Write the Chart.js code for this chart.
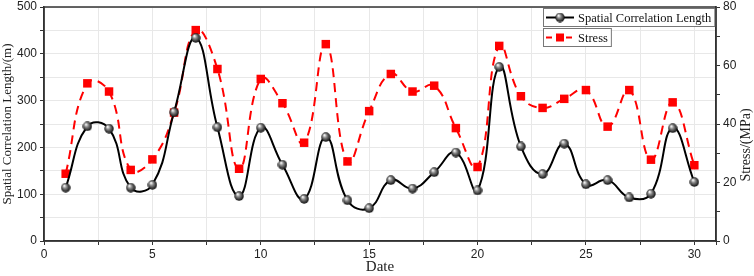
<!DOCTYPE html>
<html>
<head>
<meta charset="utf-8">
<script src="https://cdn.jsdelivr.net/npm/chart.js@4.4.0/dist/chart.umd.min.js"></script>
<style>
  html, body { margin: 0; padding: 0; background: #fff; }
  #wrap { width: 754px; height: 276px; }
</style>
</head>
<body>
<div id="wrap"><canvas id="chart-1"></canvas></div>
<script>
const days = [1,2,3,4,5,6,7,8,9,10,11,12,13,14,15,16,17,18,19,20,21,22,23,24,25,26,27,28,29,30];
const scl = [114,245,240,114,120,275,434,243,96,242,163,90,222,87,70,130,112,147,189,108,372,202,143,208,121,130,93,101,241,126];
const stress = [23.0,53.9,51.1,24.3,27.9,43.9,72.1,58.8,24.7,55.4,47.1,33.6,67.3,27.2,44.4,57.1,51.1,53.1,38.6,25.3,66.7,49.5,45.5,48.6,51.6,39.1,51.6,27.8,47.4,25.9];
const xTicks = [0,5,10,15,20,25,30];

const serif = "'Liberation Serif', 'DejaVu Serif', serif";
const sans = "'Liberation Sans', Arial, sans-serif";

// shaded ball marker
function makeBall(d) {
  const c = document.createElement("canvas");
  c.width = d; c.height = d;
  const g = c.getContext("2d");
  const r = d / 2;
  const grad = g.createRadialGradient(r * 0.7, r * 0.6, 0.5, r, r, r);
  grad.addColorStop(0, "#f4f4f4");
  grad.addColorStop(0.35, "#888");
  grad.addColorStop(1, "#000");
  g.fillStyle = grad;
  g.beginPath();
  g.arc(r, r, r - 0.3, 0, Math.PI * 2);
  g.fill();
  return c;
}
const ball = makeBall(10);

const frame = {
  id: "frame",
  afterDraw(chart) {
    const { ctx, chartArea: a } = chart;
    ctx.save();
    ctx.strokeStyle = "#333";
    ctx.lineWidth = 1.5;
    ctx.strokeRect(a.left, a.top, a.right - a.left, a.bottom - a.top);

    // right axis title
    ctx.save();
    ctx.translate(chart.width - 8, 145);
    ctx.rotate(-Math.PI / 2);
    ctx.font = "14px " + serif;
    ctx.fillStyle = "#222";
    ctx.textAlign = "center";
    ctx.textBaseline = "middle";
    ctx.fillText("Stress/(MPa)", 0, 0);
    ctx.restore();

    // legend boxes
    ctx.font = "12.5px " + serif;
    ctx.textBaseline = "middle";
    const items = [
      { text: "Spatial Correlation Length", color: "#000", dash: [], marker: "ball" },
      { text: "Stress", color: "#ff0000", dash: [6, 4], marker: "rect" },
    ];
    const x0 = a.right - 173;
    let y = a.top + 1;
    items.forEach(it => {
      const w = 35 + ctx.measureText(it.text).width + 3;
      const h = 18;
      ctx.fillStyle = "#fff";
      ctx.fillRect(x0, y, w, h);
      ctx.strokeStyle = "#777";
      ctx.lineWidth = 1;
      ctx.setLineDash([]);
      ctx.strokeRect(x0 + 0.5, y + 0.5, w, h);
      const cy = y + h / 2 + 0.5;
      ctx.strokeStyle = it.color;
      ctx.lineWidth = 2;
      ctx.setLineDash(it.dash);
      ctx.beginPath();
      ctx.moveTo(x0 + 3, cy);
      ctx.lineTo(x0 + 31, cy);
      ctx.stroke();
      ctx.setLineDash([]);
      if (it.marker === "ball") {
        ctx.drawImage(ball, x0 + 17 - 5, cy - 5);
      } else {
        ctx.fillStyle = it.color;
        ctx.fillRect(x0 + 17 - 4, cy - 4, 8, 8);
      }
      ctx.fillStyle = "#111";
      ctx.fillText(it.text, x0 + 35, cy + 1);
      y += h + 2;
    });
    ctx.restore();
  },
};

const ctx_1 = document.getElementById("chart-1");
new Chart(ctx_1, {
  type: "line",
  data: {
    labels: days,
    datasets: [
      {
        label: "Spatial Correlation Length",
        data: days.map((d, i) => ({ x: d, y: scl[i] })),
        yAxisID: "y",
        borderColor: "#000",
        borderWidth: 2,
        tension: 0.45,
        pointStyle: ball,
        pointRadius: 5,
      },
      {
        label: "Stress",
        data: days.map((d, i) => ({ x: d, y: stress[i] })),
        yAxisID: "y2",
        borderColor: "#ff0000",
        borderWidth: 2,
        borderDash: [9, 6],
        tension: 0.45,
        pointStyle: "rect",
        pointRadius: 6,
        pointBackgroundColor: "#ff0000",
        pointBorderColor: "#ff0000",
        pointBorderWidth: 0,
      },
    ],
  },
  options: {
    responsive: true,
    maintainAspectRatio: false,
    animation: { duration: 0 },
    layout: { padding: { top: 6, right: 0, left: 0, bottom: 0 } },
    plugins: {
      legend: { display: false },
      tooltip: { enabled: false },
    },
    scales: {
      x: {
        type: "linear",
        min: 0,
        max: 31,
        ticks: {
          stepSize: 2.5,
          autoSkip: false,
          maxRotation: 0,
          color: "#222",
          font: { family: sans, size: 12 },
          padding: 2,
          callback: v => (xTicks.includes(v) ? v : ""),
        },
        grid: { color: "#e8e8e8", tickColor: "#333", tickLength: 4 },
        border: { color: "#333", width: 1.5 },
        title: {
          display: true,
          text: "Date",
          color: "#222",
          font: { family: serif, size: 15 },
          padding: { top: 5, bottom: 0 },
        },
        afterFit: s => { s.height = 35; },
      },
      y: {
        position: "left",
        min: 0,
        max: 500,
        ticks: {
          stepSize: 50,
          color: "#222",
          font: { family: sans, size: 12 },
          padding: 3,
          callback: v => (v % 100 === 0 ? v : ""),
        },
        grid: { color: "#e8e8e8", tickColor: "#333", tickLength: 4 },
        border: { color: "#333", width: 1.5 },
        title: {
          display: true,
          text: "Spatial Correlation Length/(m)",
          color: "#222",
          font: { family: serif, size: 13 },
          padding: { top: 0, bottom: 0 },
        },
        afterFit: s => { s.width = 44; s.paddingTop = 0; s.paddingBottom = 0; },
      },
      y2: {
        position: "right",
        min: 0,
        max: 80,
        ticks: {
          stepSize: 10,
          color: "#222",
          font: { family: sans, size: 12 },
          padding: 3,
          callback: v => (v % 20 === 0 ? v : ""),
        },
        grid: { drawOnChartArea: false, tickColor: "#333", tickLength: 4 },
        border: { color: "#333", width: 1.5 },
        afterFit: s => { s.width = 38; s.paddingTop = 0; s.paddingBottom = 0; },
      },
    },
  },
  plugins: [frame],
});
</script>
</body>
</html>
